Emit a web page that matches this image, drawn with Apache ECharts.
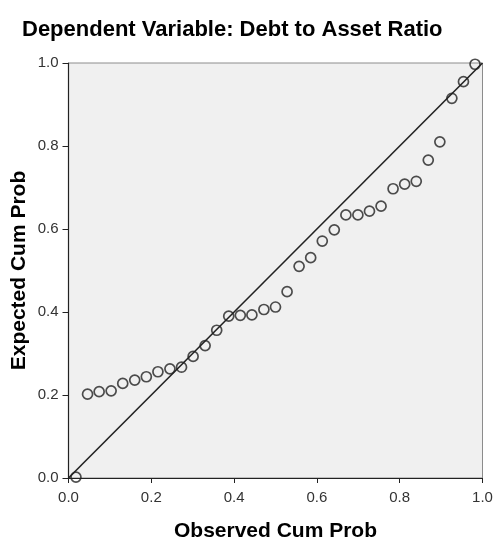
<!DOCTYPE html>
<html>
<head>
<meta charset="utf-8">
<script src="https://cdn.jsdelivr.net/npm/echarts@6/dist/echarts.min.js"></script>
<style>html,body{margin:0;padding:0;background:#fff}#c{width:493px;height:540px}</style>
</head>
<body>
<div id="c"></div>
<script>
const titleText = "Dependent Variable: Debt to Asset Ratio";
const xAxisName = "Observed Cum Prob";
const yAxisName = "Expected Cum Prob";
const tickValues = [0, 0.2, 0.4, 0.6, 0.8, 1.0];
const observed = [0.018, 0.046, 0.074, 0.103, 0.131, 0.160, 0.188, 0.216, 0.245, 0.273, 0.301, 0.330, 0.358, 0.387, 0.415, 0.443, 0.472, 0.500, 0.528, 0.557, 0.585, 0.613, 0.642, 0.670, 0.699, 0.727, 0.755, 0.784, 0.812, 0.840, 0.869, 0.897, 0.926, 0.954, 0.982];
const expected = [0.002, 0.202, 0.208, 0.210, 0.228, 0.236, 0.244, 0.256, 0.263, 0.267, 0.293, 0.319, 0.356, 0.390, 0.392, 0.393, 0.406, 0.412, 0.449, 0.510, 0.531, 0.571, 0.598, 0.634, 0.634, 0.643, 0.655, 0.697, 0.708, 0.715, 0.766, 0.810, 0.915, 0.955, 0.997];
const refLine = [[0, 0], [1, 1]];

const pts = observed.map((x, i) => [x, expected[i]]);
const font = "'Liberation Sans', Arial, sans-serif";
const chart = echarts.init(document.getElementById('c'), null, {renderer: 'canvas'});
chart.setOption({
  animation: false,
  title: {
    text: titleText, left: 17, top: 14,
    textStyle: {fontFamily: font, fontSize: 22, fontWeight: 'bold', color: '#000'}
  },
  grid: {left: 68.5, top: 63, width: 414, height: 415, show: true,
    outerBoundsMode: 'none', containLabel: false,
    backgroundColor: '#f0f0f0', borderColor: '#8c8c8c', borderWidth: 1},
  xAxis: {
    type: 'value', min: 0, max: 1, interval: 0.2,
    name: xAxisName, nameLocation: 'middle', nameGap: 43, nameMoveOverlap: false,
    nameTextStyle: {fontFamily: font, fontSize: 21, fontWeight: 'bold', color: '#000'},
    axisLine: {show: true, lineStyle: {color: '#222', width: 1.2}},
    axisTick: {show: true, length: 5, lineStyle: {color: '#222'}},
    splitLine: {show: false},
    axisLabel: {margin: 12, fontFamily: font, fontSize: 15, color: '#333',
      formatter: v => v.toFixed(1)}
  },
  yAxis: {
    type: 'value', min: 0, max: 1, interval: 0.2,
    name: yAxisName, nameLocation: 'middle', nameGap: 39, nameMoveOverlap: false,
    nameTextStyle: {fontFamily: font, fontSize: 21, fontWeight: 'bold', color: '#000'},
    axisLine: {show: true, lineStyle: {color: '#222', width: 1.2}},
    axisTick: {show: true, length: 6, lineStyle: {color: '#222'}},
    splitLine: {show: false},
    axisLabel: {margin: 10, fontFamily: font, fontSize: 15, color: '#333',
      formatter: v => v.toFixed(1)}
  },
  series: [
    {type: 'line', data: refLine, symbol: 'none', silent: true,
      lineStyle: {color: '#222', width: 1.6}, z: 2},
    {type: 'scatter', data: pts, symbol: 'circle', symbolSize: 10,
      itemStyle: {color: 'rgba(0,0,0,0)', borderColor: '#222', borderWidth: 1.7}, z: 3}
  ]
});
</script>
</body>
</html>
